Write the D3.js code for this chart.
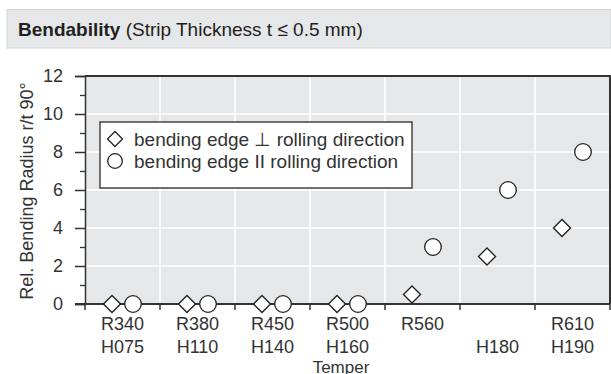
<!DOCTYPE html>
<html><head><meta charset="utf-8">
<script src="https://cdn.jsdelivr.net/npm/d3@7"></script>
<style>
html,body{margin:0;padding:0;background:#fff;}
svg{display:block;font-family:"Liberation Sans",Arial,Helvetica,sans-serif;}
</style></head>
<body><svg id="c" width="611" height="374"></svg>
<script>
const tempersR = ["R340","R380","R450","R500","R560","","R610"];
const tempersH = ["H075","H110","H140","H160","","H180","H190"];
const perpValues = [0,0,0,0,0.5,2.5,4];
const parValues = [0,0,0,0,3,6,8];
const seriesNames = ["bending edge \u22A5 rolling direction","bending edge II rolling direction"];
const yMajorTicks = [0,2,4,6,8,10,12];
const yMinorTicks = [1,3,5,7,9,11];

const svg = d3.select("#c");
const W = 611, H = 374;
const m = {l:85, r:610, t:76, b:304};
const txt = "#333";

// title bar
svg.append("rect").attr("x",7).attr("y",9.5).attr("width",W-7).attr("height",38.5)
  .attr("fill","#e6e7e8").attr("stroke","#d4d5d6").attr("stroke-width",1);
const title = svg.append("text").attr("x",18).attr("y",36).attr("fill","#231f20").attr("font-size",19);
title.append("tspan").attr("font-weight","bold").text("Bendability");
title.append("tspan").text(" (Strip Thickness t \u2264 0.5 mm)");

const idx = d3.range(tempersR.length);
const x = d3.scaleBand().domain(idx).range([m.l, m.r]).padding(0);
const y = d3.scaleLinear().domain([0,12]).range([m.b, m.t]);
const off = d3.scalePoint().domain([0,1]).range([-10.5,10.5]);

// plot bg
svg.append("rect").attr("x",m.l).attr("y",m.t).attr("width",m.r-m.l).attr("height",m.b-m.t).attr("fill","#e6e7e8");

// grid
svg.append("g").selectAll("line").data(yMajorTicks.filter(v=>v>0&&v<12)).join("line")
  .attr("x1",m.l).attr("x2",m.r).attr("y1",d=>y(d)).attr("y2",d=>y(d))
  .attr("stroke","#fff").attr("stroke-width",1.5);
svg.append("g").selectAll("line").data(idx.slice(1)).join("line")
  .attr("x1",d=>x(d)).attr("x2",d=>x(d)).attr("y1",m.t).attr("y2",m.b)
  .attr("stroke","#fff").attr("stroke-width",1.5);

// borders top/right
svg.append("path").attr("d",`M${m.l},${m.t}H${m.r}V${m.b}`).attr("fill","none").attr("stroke","#333").attr("stroke-width",2);

// y axis
const yAxis = svg.append("g").attr("transform",`translate(${m.l},0)`)
  .call(d3.axisLeft(y).tickValues(yMajorTicks).tickSize(10).tickPadding(12).tickFormat(d3.format("d")));
yAxis.select(".domain").attr("stroke","#333").attr("stroke-width",1.5);
yAxis.selectAll(".tick line").attr("stroke","#333").attr("stroke-width",1.5);
yAxis.selectAll("text").attr("font-size",18).attr("fill",txt).attr("font-family","Liberation Sans, Arial, sans-serif");
svg.append("g").attr("transform",`translate(${m.l},0)`)
  .call(d3.axisLeft(y).tickValues(yMinorTicks).tickSize(5).tickFormat(""))
  .call(g=>{g.select(".domain").remove(); g.selectAll("line").attr("stroke","#333").attr("stroke-width",1.3);});

// x axis
const xTickPos = idx.map(i=>x(i)).concat([m.r]);
svg.append("line").attr("x1",m.l-10).attr("x2",m.r).attr("y1",m.b).attr("y2",m.b).attr("stroke","#333").attr("stroke-width",1.8);
svg.append("g").selectAll("line").data(xTickPos).join("line")
  .attr("x1",d=>d).attr("x2",d=>d).attr("y1",m.b).attr("y2",m.b+6).attr("stroke","#333").attr("stroke-width",1.5);
svg.append("g").selectAll("text").data(idx).join("text")
  .attr("x",d=>x(d)+x.bandwidth()/2).attr("y",330).attr("text-anchor","middle")
  .attr("font-size",18).attr("fill",txt).text(d=>tempersR[d]);
svg.append("g").selectAll("text").data(idx).join("text")
  .attr("x",d=>x(d)+x.bandwidth()/2).attr("y",352.5).attr("text-anchor","middle")
  .attr("font-size",18).attr("fill",txt).text(d=>tempersH[d]);
svg.append("text").attr("x",341).attr("y",373).attr("text-anchor","middle").attr("font-size",17).attr("fill",txt).text("Temper");

// y title
svg.append("text").attr("transform","translate(33,191) rotate(-90)").attr("text-anchor","middle")
  .attr("font-size",18).attr("fill",txt).text("Rel. Bending Radius r/t 90\u00B0");

// markers
const diamond = s => `M0,${-s}L${s},0L0,${s}L${-s},0Z`;
svg.append("g").selectAll("path").data(idx).join("path")
  .attr("transform",d=>`translate(${x(d)+x.bandwidth()/2+off(0)},${y(perpValues[d])})`)
  .attr("d",diamond(8.5)).attr("fill","#fff").attr("stroke","#222").attr("stroke-width",1.4);
svg.append("g").selectAll("circle").data(idx).join("circle")
  .attr("cx",d=>x(d)+x.bandwidth()/2+off(1)).attr("cy",d=>y(parValues[d])).attr("r",8.3)
  .attr("fill","#fff").attr("stroke","#222").attr("stroke-width",1.3);

// legend
const lg = svg.append("g");
lg.append("rect").attr("x",100).attr("y",122).attr("width",312).attr("height",66)
  .attr("fill","#fff").attr("stroke","#444").attr("stroke-width",1.5);
lg.append("path").attr("transform","translate(115,139)").attr("d",diamond(7.5)).attr("fill","#fff").attr("stroke","#222").attr("stroke-width",1.3);
lg.append("circle").attr("cx",115).attr("cy",161).attr("r",7.3).attr("fill","#fff").attr("stroke","#222").attr("stroke-width",1.3);
lg.selectAll("text.l").data(seriesNames).join("text").attr("class","l")
  .attr("x",134).attr("y",(d,i)=>146+i*22).attr("font-size",19).attr("fill",txt).text(d=>d);
</script></body></html>
